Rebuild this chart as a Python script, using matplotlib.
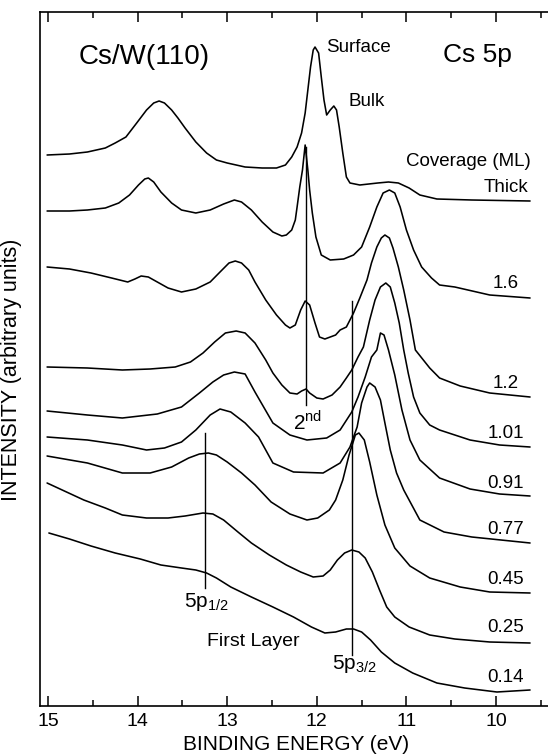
import matplotlib
matplotlib.use("Agg")
import matplotlib.pyplot as plt
from matplotlib.ticker import MultipleLocator

plt.rcParams['font.family'] = ['Liberation Sans', 'DejaVu Sans']
plt.rcParams['mathtext.fontset'] = 'custom'
plt.rcParams['mathtext.rm'] = 'Liberation Sans'

# spectra: binding energy (eV) and offset intensity (arb. units)
thick_e = [15.01, 14.76, 14.56, 14.36, 14.25, 14.13, 14.01, 13.90, 13.82, 13.76, 13.70, 13.62,
           13.55, 13.47, 13.35, 13.23, 13.12, 13.00, 12.80, 12.61, 12.45, 12.35, 12.28, 12.22,
           12.17, 12.13, 12.10, 12.07, 12.04, 12.02, 11.98, 11.95, 11.92, 11.89, 11.85, 11.81,
           11.78, 11.75, 11.71, 11.67, 11.63, 11.52, 11.32, 11.20, 11.09, 10.97, 10.85, 10.66,
           10.27, 9.62]
thick_i = [55.1, 55.2, 55.4, 55.8, 56.3, 56.9, 58.3, 59.6, 60.3, 60.5, 60.3, 59.6,
           58.8, 57.8, 56.4, 55.3, 54.6, 54.3, 53.9, 53.8, 53.8, 54.1, 54.9, 55.9,
           57.3, 59.3, 61.6, 63.9, 65.6, 65.9, 65.3, 62.9, 60.6, 59.1, 59.6, 60.0,
           59.6, 57.9, 55.3, 52.9, 52.3, 52.1, 52.3, 52.4, 52.3, 51.8, 51.1, 50.7,
           50.6, 50.5]

c16_e = [15.01, 14.76, 14.56, 14.36, 14.21, 14.09, 13.99, 13.92, 13.88, 13.82, 13.74, 13.62,
         13.51, 13.35, 13.19, 13.04, 12.92, 12.84, 12.73, 12.61, 12.49, 12.39, 12.34, 12.28,
         12.24, 12.22, 12.19, 12.16, 12.13, 12.10, 12.08, 12.05, 12.01, 11.95, 11.85, 11.70,
         11.59, 11.50, 11.41, 11.33, 11.26, 11.19, 11.13, 11.07, 11.00, 10.92, 10.83, 10.72,
         10.63, 10.46, 10.07, 9.62]
c16_i = [49.5, 49.5, 49.6, 49.8, 50.3, 51.1, 52.1, 52.7, 52.8, 52.4, 51.4, 50.3,
         49.6, 49.3, 49.6, 50.2, 50.6, 50.4, 49.6, 48.4, 47.4, 47.0, 47.1, 47.6,
         48.6, 49.9, 51.9, 53.6, 56.1, 53.6, 51.6, 49.3, 46.9, 45.1, 44.6, 44.7,
         45.1, 45.9, 47.9, 49.9, 51.3, 51.6, 51.3, 49.9, 47.6, 45.6, 43.9, 42.8,
         42.1, 41.9, 41.1, 40.8]

c12_e = [15.01, 14.76, 14.52, 14.29, 14.11, 14.03, 13.96, 13.88, 13.78, 13.66, 13.51, 13.35,
         13.19, 13.08, 12.98, 12.91, 12.84, 12.76, 12.69, 12.57, 12.45, 12.35, 12.30, 12.24,
         12.18, 12.13, 12.08, 12.02, 11.97, 11.91, 11.79, 11.74, 11.67, 11.59, 11.52, 11.44,
         11.39, 11.33, 11.28, 11.24, 11.19, 11.15, 11.09, 11.03, 10.96, 10.90, 10.74, 10.63,
         10.40, 10.07, 9.62]
c12_i = [43.9, 43.7, 43.3, 42.8, 42.4, 42.7, 43.0, 42.9, 42.4, 41.8, 41.4, 41.7,
         42.4, 43.4, 44.3, 44.5, 44.3, 43.6, 42.4, 40.6, 39.1, 38.1, 37.8, 38.1,
         39.6, 40.5, 40.1, 38.3, 36.9, 36.7, 37.1, 37.6, 37.9, 39.3, 40.8, 42.6,
         44.3, 45.9, 46.8, 47.1, 46.8, 45.8, 43.9, 41.6, 38.6, 35.6, 33.8, 32.8,
         32.0, 31.3, 30.9]

c101_e = [15.01, 14.56, 14.17, 13.86, 13.58, 13.41, 13.27, 13.14, 13.02, 12.90, 12.80, 12.69,
          12.57, 12.49, 12.39, 12.30, 12.22, 12.17, 12.12, 12.08, 12.00, 11.93, 11.83, 11.74,
          11.67, 11.61, 11.54, 11.48, 11.41, 11.35, 11.29, 11.23, 11.18, 11.13, 11.08, 11.03,
          10.98, 10.92, 10.85, 10.74, 10.63, 10.29, 9.96, 9.62]
c101_i = [33.9, 33.8, 33.6, 33.7, 33.9, 34.4, 35.3, 36.4, 37.3, 37.5, 37.3, 36.3,
          34.6, 33.3, 32.1, 31.3, 31.2, 31.5, 31.7, 31.3, 30.8, 30.7, 31.1, 31.9,
          32.8, 33.6, 34.9, 35.9, 38.6, 40.6, 41.9, 42.3, 41.9, 40.3, 38.3, 35.6,
          33.3, 30.9, 29.3, 28.1, 27.6, 26.6, 26.1, 25.9]

c091_e = [15.01, 14.56, 14.17, 13.78, 13.51, 13.31, 13.16, 13.04, 12.92, 12.80, 12.69, 12.49,
          12.30, 12.11, 11.89, 11.74, 11.61, 11.54, 11.46, 11.39, 11.33, 11.29, 11.25, 11.20,
          11.13, 11.05, 10.96, 10.85, 10.63, 10.29, 9.96, 9.62]
c091_i = [29.5, 29.1, 28.8, 29.2, 29.9, 31.3, 32.4, 33.1, 33.4, 33.2, 31.4, 28.3,
          27.1, 26.6, 26.8, 27.6, 29.4, 30.9, 32.9, 34.9, 35.6, 37.3, 37.1, 35.6,
          33.1, 29.6, 26.6, 24.6, 22.8, 21.7, 21.2, 21.0]

c077_e = [15.01, 14.56, 14.17, 13.90, 13.70, 13.51, 13.35, 13.19, 13.08, 12.96, 12.80, 12.65,
          12.49, 12.26, 11.93, 11.74, 11.63, 11.55, 11.50, 11.44, 11.41, 11.35, 11.29, 11.24,
          11.18, 11.11, 11.03, 10.85, 10.58, 10.27, 9.62]
c077_i = [26.9, 26.6, 26.1, 25.6, 25.8, 26.4, 27.6, 29.1, 29.7, 29.4, 28.3, 26.9,
          24.3, 23.4, 23.3, 24.3, 25.9, 27.9, 30.3, 31.9, 32.3, 31.9, 30.6, 28.3,
          25.6, 23.3, 21.6, 18.6, 17.4, 16.9, 16.3]

c045_e = [15.01, 14.56, 14.17, 13.86, 13.62, 13.43, 13.31, 13.21, 13.12, 13.00, 12.84, 12.69,
          12.51, 12.30, 12.11, 11.99, 11.86, 11.79, 11.71, 11.64, 11.57, 11.53, 11.47, 11.41,
          11.33, 11.24, 11.13, 10.96, 10.74, 10.40, 10.07, 9.62]
c045_i = [25.0, 24.3, 23.3, 23.3, 23.9, 24.8, 25.2, 25.3, 25.1, 24.4, 23.3, 22.1,
          20.4, 19.2, 18.6, 18.8, 19.6, 20.6, 22.6, 25.1, 27.1, 27.3, 26.6, 24.4,
          21.1, 18.1, 15.8, 14.0, 12.8, 11.9, 11.4, 11.3]

c025_e = [15.01, 14.60, 14.36, 14.17, 13.90, 13.66, 13.47, 13.27, 13.16, 13.04, 12.88, 12.73,
          12.53, 12.34, 12.18, 12.04, 11.93, 11.85, 11.77, 11.69, 11.61, 11.53, 11.46, 11.38,
          11.30, 11.22, 11.13, 10.97, 10.74, 10.46, 10.07, 9.62]
c025_i = [22.3, 20.6, 19.8, 19.1, 18.8, 18.8, 19.0, 19.3, 19.2, 18.6, 17.4, 16.3,
          15.1, 14.1, 13.4, 12.9, 13.0, 13.6, 14.6, 15.3, 15.6, 15.4, 14.8, 13.4,
          11.6, 9.9, 8.9, 7.9, 7.1, 6.7, 6.4, 6.3]

c014_e = [14.99, 14.76, 14.52, 14.25, 13.97, 13.74, 13.51, 13.35, 13.23, 13.12, 12.96, 12.73,
          12.49, 12.26, 12.06, 11.91, 11.79, 11.67, 11.59, 11.50, 11.40, 11.28, 11.13, 10.93,
          10.66, 10.35, 9.99, 9.62]
c014_i = [17.3, 16.7, 16.0, 15.3, 14.7, 14.1, 13.8, 13.6, 13.3, 12.8, 11.9, 10.9,
          9.9, 8.9, 7.9, 7.3, 7.4, 7.7, 7.7, 7.4, 6.6, 5.4, 4.3, 3.3,
          2.3, 1.8, 1.4, 1.6]

coverages = ["Thick", "1.6", "1.2", "1.01", "0.91", "0.77", "0.45", "0.25", "0.14"]
label_levels = [51.9, 42.3, 32.3, 27.3, 22.3, 17.6, 12.6, 7.8, 2.9]

# peak markers (eV)
second_layer_e = 12.12
p12_e = 13.25
p32_e = 11.61


def main():
    fig = plt.figure(figsize=(5.48, 7.54), dpi=100)
    ax = fig.add_axes([40 / 548, 1 - 706 / 754, 508 / 548, 694 / 754])

    spectra = [(thick_e, thick_i), (c16_e, c16_i), (c12_e, c12_i), (c101_e, c101_i),
               (c091_e, c091_i), (c077_e, c077_i), (c045_e, c045_i), (c025_e, c025_i),
               (c014_e, c014_i)]
    for e, i in spectra:
        ax.plot(e, i, color='black', lw=1.15, solid_joinstyle='round', solid_capstyle='round')

    ax.plot([second_layer_e, second_layer_e], [55.9, 30.1], color='black', lw=1.0)
    ax.plot([p32_e, p32_e], [40.5, 5.1], color='black', lw=1.0)
    ax.plot([p12_e, p12_e], [27.3, 11.8], color='black', lw=1.0)

    ax.set_xlim(15.089, 9.42)
    ax.set_ylim(0, 69.4)

    ax.xaxis.set_major_locator(MultipleLocator(1))
    ax.xaxis.set_minor_locator(MultipleLocator(0.5))
    ax.set_yticks([])
    ax.tick_params(axis='x', which='both', direction='in', top=True, bottom=True,
                   width=1.1, labelsize=14, pad=5)
    ax.tick_params(axis='x', which='major', length=7)
    ax.tick_params(axis='x', which='minor', length=4.5)
    ax.spines['right'].set_visible(False)
    for s in ['left', 'top', 'bottom']:
        ax.spines[s].set_linewidth(1.2)

    ax.text(13.93, 64.9, "Cs/W(110)", fontsize=20, ha='center', va='center')
    ax.text(10.21, 65.1, "Cs 5p", fontsize=19, ha='center', va='center')
    ax.text(11.54, 65.9, "Surface", fontsize=13.5, ha='center', va='center')
    ax.text(11.44, 60.4, "Bulk", fontsize=13.5, ha='center', va='center')
    ax.text(10.31, 54.5, "Coverage (ML)", fontsize=13.5, ha='center', va='center')
    for lab, lev in zip(coverages, label_levels):
        ax.text(9.89, lev, lab, fontsize=13.5, ha='center', va='center')

    ax.text(12.10, 28.4, "2$^{\\mathregular{nd}}$", fontsize=15, ha='center', va='center')
    ax.text(13.23, 10.4, "5p$_{\\mathregular{1/2}}$", fontsize=15, ha='center', va='center')
    ax.text(11.58, 4.2, "5p$_{\\mathregular{3/2}}$", fontsize=15, ha='center', va='center')
    ax.text(12.71, 6.5, "First Layer", fontsize=14, ha='center', va='center')

    fig.text(296 / 548, 1 - 745 / 754, "BINDING ENERGY (eV)", fontsize=15,
             ha='center', va='center')
    fig.text(12 / 548, 1 - 370 / 754, "INTENSITY (arbitrary units)", fontsize=15.5,
             ha='center', va='center', rotation=90)

    fig.savefig("out.png", dpi=100)
    plt.close(fig)


if __name__ == "__main__":
    main()
